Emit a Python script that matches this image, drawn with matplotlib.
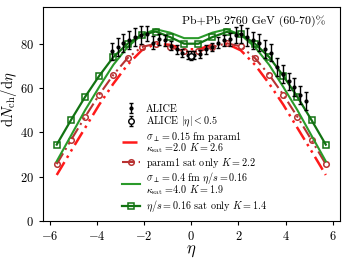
import numpy as np
import matplotlib
matplotlib.use('Agg')
import matplotlib.pyplot as plt

plt.rcParams['font.family'] = 'serif'
plt.rcParams['font.serif'] = ['cmr10', 'DejaVu Serif']
plt.rcParams['mathtext.fontset'] = 'cm'
plt.rcParams['axes.formatter.use_mathtext'] = True

# model grid
eta_model = [-5.7, -5.1, -4.5, -3.9, -3.3, -2.7, -2.1, -1.5, -0.9, -0.3,
             0.3, 0.9, 1.5, 2.1, 2.7, 3.3, 3.9, 4.5, 5.1, 5.7]

# sigma_perp = 0.15 fm param1, kappa_sat=2.0, K=2.6
param1 = [20.8, 31.5, 42.0, 52.5, 62.0, 70.5, 77.0, 80.0, 79.5, 77.5,
          77.5, 79.5, 80.0, 77.0, 70.5, 62.0, 52.5, 42.0, 31.5, 20.8]
# param1 sat only K=2.2
param1_sat = [25.7, 36.5, 47.0, 57.0, 66.0, 73.5, 78.5, 80.0, 78.5, 76.5,
              76.5, 78.5, 80.2, 78.8, 73.5, 66.0, 57.0, 47.0, 36.5, 25.7]
# sigma_perp = 0.4 fm eta/s=0.16, kappa_sat=4.0, K=1.9
etas016 = [27.0, 38.5, 50.0, 60.5, 70.5, 78.5, 84.0, 86.5, 85.0, 82.5,
           82.5, 85.0, 86.5, 84.0, 78.5, 70.5, 60.5, 50.0, 38.5, 27.0]
# eta/s = 0.16 sat only K=1.4
etas016_sat = [34.5, 45.5, 56.0, 65.5, 74.0, 80.0, 84.0, 85.5, 83.0, 80.0,
               80.0, 83.0, 85.3, 84.3, 80.0, 74.0, 65.5, 56.0, 45.5, 34.5]

# ALICE data
eta_alice = [-3.375, -3.125, -2.875, -2.625, -2.375, -2.125, -1.875, -1.625,
             -1.375, -1.125, -0.875, -0.625, -0.375, -0.125, 0.125, 0.375,
             0.625, 0.875, 1.125, 1.375, 1.625, 1.875, 2.125, 2.375, 2.625,
             2.875, 3.125, 3.375, 3.625, 3.875, 4.125, 4.375, 4.625, 4.875]
dndeta_alice = [76.5, 78.5, 80.2, 81.7, 83.0, 84.0, 84.5, 80.5,
                82.0, 81.5, 79.0, 77.5, 76.0, 75.0, 75.0, 75.5,
                77.5, 78.5, 80.5, 81.5, 82.0, 84.0, 84.5, 83.0, 81.5,
                80.5, 77.5, 76.0, 69.5, 66.5, 63.0, 60.5, 57.0, 54.0]
err_alice = [4.0, 4.0, 4.0, 4.0, 4.0, 4.0, 3.5, 3.0,
             2.5, 2.5, 2.0, 2.0, 1.8, 1.8, 1.8, 1.8,
             2.0, 2.0, 2.5, 2.5, 3.0, 3.5, 4.0, 4.0, 4.0,
             4.0, 4.0, 4.0, 4.0, 4.0, 4.0, 4.0, 4.0, 4.0]

eta_mid = [0.0]
dndeta_mid = [74.5]
err_mid = [2.0]

fig = plt.figure(figsize=(3.49, 2.62), dpi=100)
ax = fig.add_axes([0.122, 0.156, 0.852, 0.816])

ax.errorbar(eta_alice, dndeta_alice, yerr=err_alice, fmt='o', color='black',
            ms=2, elinewidth=1, capsize=1.5, label='ALICE', zorder=5)
ax.errorbar(eta_mid, dndeta_mid, yerr=err_mid, fmt='o', color='black', mfc='white',
            ms=4, elinewidth=1, capsize=1.5, label=r'ALICE $|\eta|<0.5$', zorder=6)

ax.plot(eta_model, param1, color='#ff1a1a', lw=1.8, ls=(0, (6, 2, 1, 2, 1, 2)),
        label='$\\sigma_\\perp=0.15$ fm param1\n$\\kappa_{\\rm sat}$ =2.0 $K=2.6$')
ax.plot(eta_model, param1_sat, color='#b83232', lw=1.5, ls=(0, (6, 2, 1, 2, 1, 2)),
        marker='o', ms=4, mfc='none', mew=1.1,
        label=r'param1 sat only $K=2.2$')
ax.plot(eta_model, etas016, color='#2a9a2a', lw=1.5,
        label='$\\sigma_\\perp=0.4$ fm $\\eta/s=0.16$\n$\\kappa_{\\rm sat}$ =4.0 $K=1.9$')
ax.plot(eta_model, etas016_sat, color='#127312', lw=1.6,
        marker='s', ms=4, mfc='none', mew=1.1,
        label=r'$\eta/s=0.16$ sat only $K=1.4$')

ax.text(0.95, 0.965, 'Pb+Pb 2760 GeV (60-70)%', transform=ax.transAxes,
        ha='right', va='top', fontsize=8.5)

ax.set_xlim(-6.3, 6.3)
ax.set_ylim(0, 96.4)
ax.set_xticks([-6, -4, -2, 0, 2, 4, 6])
ax.set_yticks([0, 20, 40, 60, 80])
ax.tick_params(labelsize=9, direction='out', length=3)
ax.set_xlabel(r'$\eta$', fontsize=12, labelpad=0)
ax.set_ylabel(r'$\mathrm{d}N_{\mathrm{ch}}/\mathrm{d}\eta$', fontsize=10.5)
ax.yaxis.set_label_coords(-0.078, 0.57)

handles, labels = ax.get_legend_handles_labels()
order = [4, 5, 0, 1, 2, 3]
leg = ax.legend([handles[i] for i in order], [labels[i] for i in order],
                loc='lower left', bbox_to_anchor=(0.241, -0.005), frameon=False,
                fontsize=7.3, handlelength=1.75, handletextpad=0.56,
                labelspacing=0.08, borderpad=0.3)
for t in leg.get_texts():
    t.set_linespacing(0.72)

fig.savefig('out.png', dpi=100)
